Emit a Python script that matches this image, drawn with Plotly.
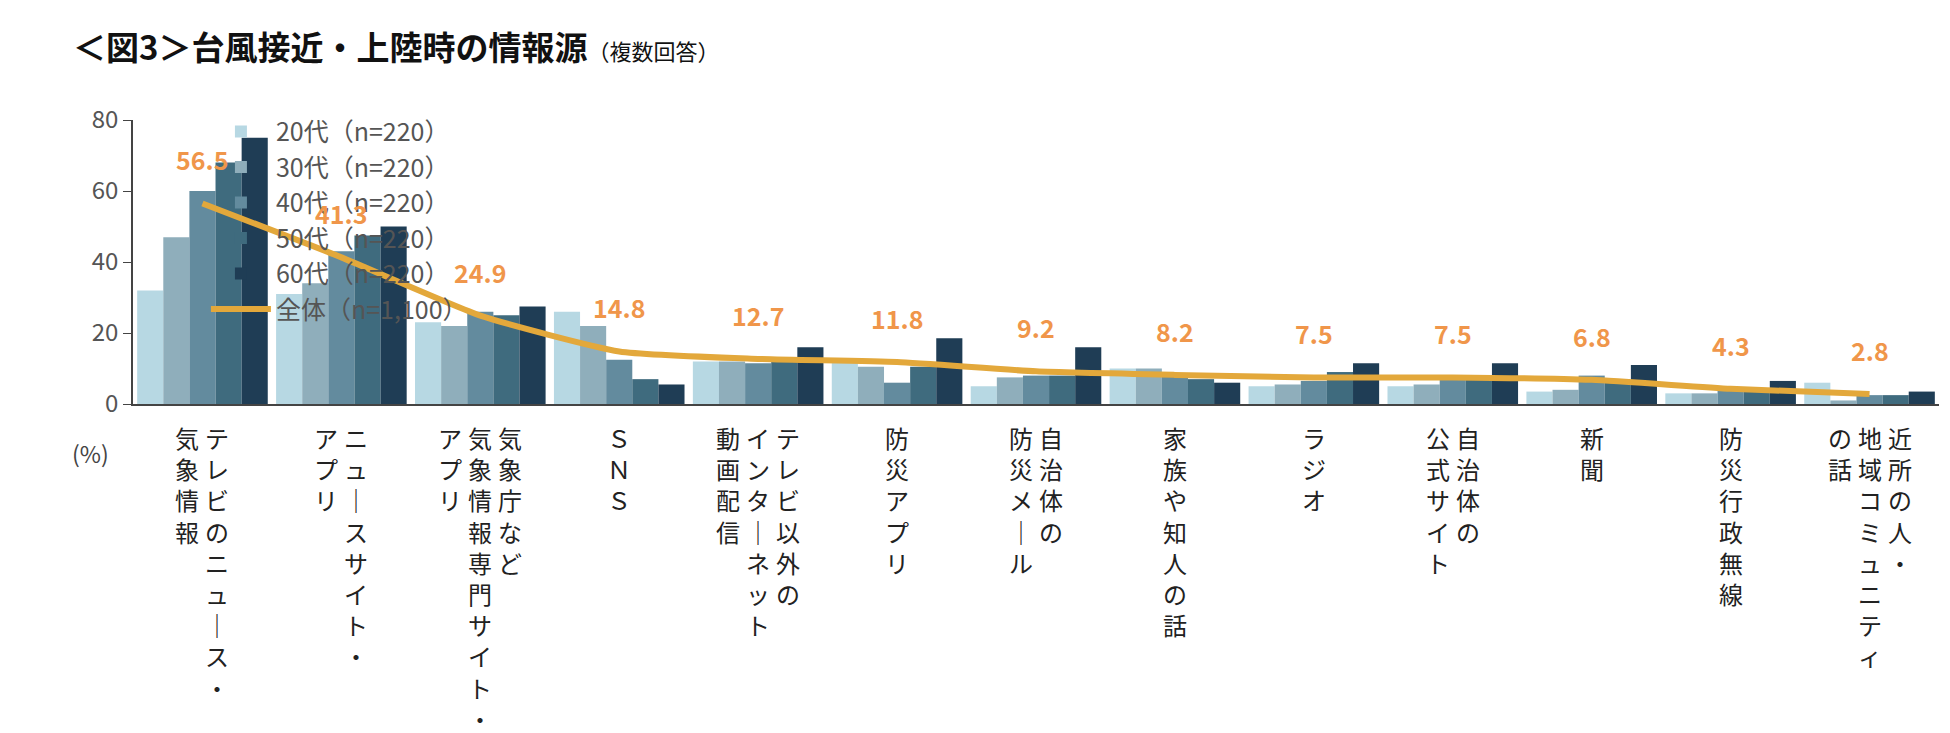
import plotly.graph_objects as go

FONT = "Noto Sans CJK JP"

# 項目（縦書き用に列ごと、右の列が先）
items = [
    ["テレビのニュース・", "気象情報"],
    ["ニュースサイト・", "アプリ"],
    ["気象庁など", "気象情報専門サイト・", "アプリ"],
    ["ＳＮＳ"],
    ["テレビ以外の", "インターネット", "動画配信"],
    ["防災アプリ"],
    ["自治体の", "防災メール"],
    ["家族や知人の話"],
    ["ラジオ"],
    ["自治体の", "公式サイト"],
    ["新聞"],
    ["防災行政無線"],
    ["近所の人・", "地域コミュニティ", "の話"],
]
cats = ["".join(c) for c in items]

ages = {
    "20代（n=220）": [32, 31, 23, 26, 12, 12, 5, 10, 5, 5, 3.5, 3, 6],
    "30代（n=220）": [47, 34, 22, 22, 12, 10.5, 7.5, 10, 5.5, 5.5, 4, 3, 1],
    "40代（n=220）": [60, 43, 26, 12.5, 11.5, 6, 8, 8, 6.5, 7, 8, 4, 2.5],
    "50代（n=220）": [68, 47.5, 25, 7, 12, 10.5, 8, 7, 9, 7.5, 6.5, 4, 2.5],
    "60代（n=220）": [75, 50, 27.5, 5.5, 16, 18.5, 16, 6, 11.5, 11.5, 11, 6.5, 3.5],
}
colors = ["#B7D8E3", "#8FAEBB", "#638B9E", "#3F6B7E", "#1F3D55"]
total = [56.5, 41.3, 24.9, 14.8, 12.7, 11.8, 9.2, 8.2, 7.5, 7.5, 6.8, 4.3, 2.8]

fig = go.Figure()
for (name, vals), col in zip(ages.items(), colors):
    fig.add_trace(go.Bar(x=cats, y=vals, name=name, marker_color=col, marker_line_width=0))

fig.add_trace(go.Scatter(x=cats, y=total, name="全体（n=1,100）", mode="lines",
                         line=dict(color="#E3A83B", width=6, shape="spline", smoothing=0.5)))

for c, v in zip(cats, total):
    fig.add_annotation(x=c, y=v, text=f"<b>{v}</b>", showarrow=False, yshift=44,
                       font=dict(family=FONT, size=25, color="#F0964A"))


def vert(s):
    return "<br>".join(ch.replace("ー", "｜") for ch in s)


for c, cols in zip(cats, items):
    n = len(cols)
    for i, col in enumerate(cols):
        off = ((n - 1) / 2 - i) * 30
        fig.add_annotation(x=c, y=0, yref="paper", text=vert(col), showarrow=False,
                           xshift=off, yshift=-14, yanchor="top", align="center",
                           font=dict(family=FONT, size=24, color="#222222"))

fig.add_annotation(x=0, y=0, xref="paper", yref="paper", text="(%)", showarrow=False,
                   xshift=-22, yshift=-30, xanchor="right", yanchor="top",
                   font=dict(family=FONT, size=23, color="#444444"))

fig.add_annotation(x=0, y=1, xref="paper", yref="paper", xanchor="left", yanchor="top",
                   xshift=-62, yshift=100, showarrow=False,
                   text="<b>＜図3＞台風接近・上陸時の情報源</b><span style='font-size:22px'>（複数回答）</span>",
                   font=dict(family=FONT, size=33, color="#111111"))

fig.update_layout(
    width=1950, height=733,
    margin=dict(l=125, r=19, t=112, b=337),
    plot_bgcolor="white", paper_bgcolor="white",
    barmode="group", bargap=0.06, bargroupgap=0,
    font=dict(family=FONT, size=24, color="#555555"),
    xaxis=dict(showticklabels=False, showline=True, linecolor="#444444", linewidth=1.5,
               ticks=""),
    yaxis=dict(range=[0, 80], dtick=20, showgrid=False, showline=True, linecolor="#444444",
               linewidth=1.5, ticks="outside", ticklen=8, tickcolor="#444444",
               tickfont=dict(size=24, color="#555555"), zeroline=False),
    legend=dict(orientation="h", x=0.33, y=1.04, xanchor="left", yanchor="top",
                entrywidth=360, entrywidthmode="pixels", traceorder="normal",
                itemwidth=60,
                font=dict(family=FONT, size=25, color="#555555"), bgcolor="rgba(0,0,0,0)"),
    showlegend=True,
)

fig.write_html("out.html")
